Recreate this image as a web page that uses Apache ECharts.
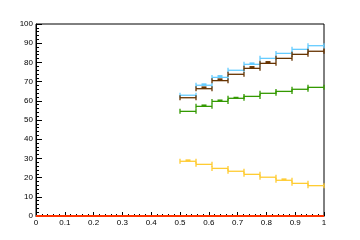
<!DOCTYPE html>
<html>
<head>
<meta charset="utf-8">
<script src="https://cdn.jsdelivr.net/npm/echarts@6/dist/echarts.min.js"></script>
<style>html,body{margin:0;padding:0;background:#fff}#c{width:360px;height:240px}</style>
</head>
<body>
<div id="c"></div>
<script>
const binEdges = [0.5, 0.5556, 0.6111, 0.6667, 0.7222, 0.7778, 0.8333, 0.8889, 0.9444, 1.0];
const blueVals   = [62.9, 68.1, 72.2, 75.9, 79.0, 82.1, 84.7, 86.8, 88.7];
const brownVals  = [61.6, 66.3, 70.5, 73.8, 76.9, 79.5, 82.1, 84.2, 85.8];
const greenVals  = [54.5, 57.1, 59.7, 61.3, 62.3, 63.9, 64.9, 66.0, 67.0];
const yellowVals = [28.5, 26.9, 24.8, 23.3, 21.7, 20.2, 18.6, 17.0, 15.8];
const blueErr   = [0, 1, 1.2, 0, 1, 0, 0, 0, 0];
const brownErr  = [0, 1.2, 1.2, 0, 1.2, 1.2, 0, 0, 0];
const greenErr  = [0, 1, 1, 0.8, 0, 0, 0, 0, 0];
const yellowErr = [1, 0, 0, 0, 0, 0, 1, 0, 0];
const redX = [0, 1];
const redY = [0, 0];

function histData(vals, errs) {
  return vals.map((v, i) => [binEdges[i], binEdges[i + 1], v, errs[i]]);
}
function renderHist(params, api) {
  const xl = api.value(0), xh = api.value(1), v = api.value(2), e = api.value(3);
  const p0 = api.coord([xl, v]);
  const p1 = api.coord([xh, v]);
  const color = api.visual('color');
  const st = { stroke: color, lineWidth: 1.3 };
  const children = [
    { type: 'line', shape: { x1: p0[0], y1: p0[1], x2: p1[0], y2: p1[1] }, style: st },
    { type: 'line', shape: { x1: p0[0], y1: p0[1] - 2.5, x2: p0[0], y2: p0[1] + 2.5 }, style: st },
    { type: 'line', shape: { x1: p1[0], y1: p1[1] - 2.5, x2: p1[0], y2: p1[1] + 2.5 }, style: st }
  ];
  if (e > 0) {
    const pc = api.coord([(xl + xh) / 2, v + e]);
    children.push({ type: 'rect', shape: { x: pc[0] - 2.5, y: pc[1], width: 5, height: p0[1] - pc[1] }, style: { fill: color } });
  }
  return { type: 'group', children };
}
function histSeries(name, vals, errs, color) {
  return {
    name, type: 'custom', renderItem: renderHist, data: histData(vals, errs),
    encode: { x: [0, 1], y: 2 }, itemStyle: { color }, clip: false, silent: true
  };
}

const chart = echarts.init(document.getElementById('c'), null, { renderer: 'canvas' });
const lab = { fontSize: 8, color: '#000', fontFamily: 'Liberation Sans, Arial, sans-serif' };
chart.setOption({
  animation: false,
  backgroundColor: '#fff',
  grid: { left: 36, right: 36, top: 24, bottom: 24, show: true, borderColor: '#000', borderWidth: 1, backgroundColor: 'transparent' },
  xAxis: {
    type: 'value', min: 0, max: 1, interval: 0.1,
    axisLine: { show: true, lineStyle: { color: '#000', width: 1 } },
    axisTick: { show: true, inside: true, length: 4, lineStyle: { color: '#000' } },
    minorTick: { show: true, splitNumber: 5, length: 2, lineStyle: { color: '#000' } },
    splitLine: { show: false },
    axisLabel: Object.assign({ margin: 3, formatter: v => (Math.round(v * 10) / 10).toString() }, lab)
  },
  yAxis: {
    type: 'value', min: 0, max: 100, interval: 10,
    axisLine: { show: true, lineStyle: { color: '#000', width: 1 } },
    axisTick: { show: true, inside: true, length: 6, lineStyle: { color: '#000' } },
    minorTick: { show: true, splitNumber: 5, length: 3, lineStyle: { color: '#000' } },
    splitLine: { show: false },
    axisLabel: Object.assign({ margin: 3 }, lab)
  },
  series: [
    histSeries('blue', blueVals, blueErr, '#66ccff'),
    histSeries('brown', brownVals, brownErr, '#663300'),
    histSeries('green', greenVals, greenErr, '#339900'),
    histSeries('yellow', yellowVals, yellowErr, '#ffcc33'),
    {
      name: 'red', type: 'line', data: redX.map((x, i) => [x, redY[i]]),
      symbol: 'none', lineStyle: { color: '#ff3300', width: 2 }, clip: false, silent: true, z: 5
    }
  ]
});
</script>
</body>
</html>
